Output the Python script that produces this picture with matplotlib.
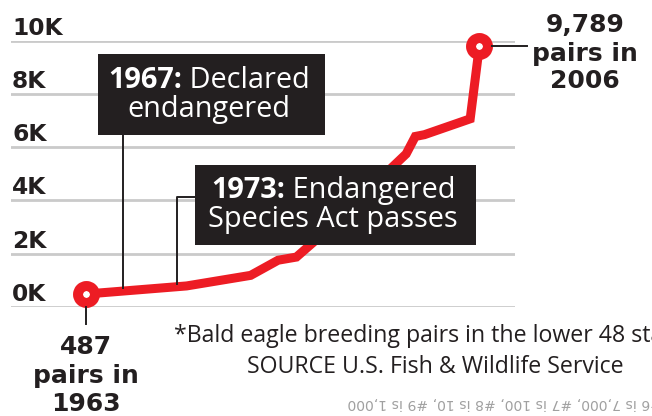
# pares reprodutores de águia-careca, 1963-2006, com anotações dos marcos legais

import numpy as np
import matplotlib
matplotlib.use("Agg")
import matplotlib.pyplot as plt
from matplotlib.patches import Rectangle

# dados: pares reprodutores nos 48 estados contíguos
anos = [1963, 1974, 1981, 1984, 1986, 1988, 1990, 1992, 1994, 1996, 1998, 1999, 2000, 2005, 2006]
pares = [487, 791, 1188, 1757, 1875, 2475, 3035, 3749, 4452, 5094, 5748, 6404, 6471, 7066, 9789]

ticks_y = [0, 2000, 4000, 6000, 8000, 10000]
rotulos_y = ["0K", "2K", "4K", "6K", "8K", "10K"]

ano_declarado = 1967
ano_lei = 1973

VERMELHO = "#ed1c24"
ESCURO = "#231f20"
CINZA = "#cacaca"

L, A = 652, 416
fig = plt.figure(figsize=(L / 100, A / 100), dpi=100)
ax = fig.add_axes([11 / L, (A - 307) / A, 504 / L, (307 - 40.7) / A])
ax.set_xlim(1954.8, 2009.9)
ax.set_ylim(0, 10000)
ax.axis("off")

# linhas de grade e rótulos do eixo y
for v, r in zip(ticks_y, rotulos_y):
    ax.axhline(v, color=CINZA, lw=2, zorder=1)
    ax.annotate(r, (0, v), xycoords=ax.get_yaxis_transform(), xytext=(1, 6),
                textcoords="offset pixels", ha="left", va="baseline",
                fontsize=16.8, fontweight="bold", family="DejaVu Sans", color=ESCURO)

ax.plot(anos, pares, color=VERMELHO, lw=6.5, solid_joinstyle="miter",
        solid_capstyle="butt", zorder=3, clip_on=False)
ax.plot([anos[0], anos[-1]], [pares[0], pares[-1]], "o", ms=12.2, mfc="white",
        mec=VERMELHO, mew=7.2, zorder=4, clip_on=False)

# camada por cima em coordenadas de pixel (y para baixo)
ov = fig.add_axes([0, 0, 1, 1], zorder=5)
ov.set_xlim(0, L)
ov.set_ylim(A, 0)
ov.axis("off")


def para_px(x, y):
    d = ax.transData.transform((x, y))
    return ov.transData.inverted().transform(d)


rend = fig.canvas.get_renderer()


def linha_mista(cx, base, partes, size, cor):
    objs = []
    for txt, peso in partes:
        t = ov.text(0, base, txt, fontsize=size, fontweight=peso, family="Open Sans",
                    color=cor, va="baseline", ha="left", zorder=7)
        objs.append(t)
    larguras = [t.get_window_extent(rend).width for t in objs]
    x = cx - sum(larguras) / 2
    for t, w in zip(objs, larguras):
        t.set_x(x)
        x += w


# caixas pretas
ov.add_patch(Rectangle((98, 54), 227, 81, color=ESCURO, lw=0, zorder=6))
ov.add_patch(Rectangle((195, 165), 281, 80, color=ESCURO, lw=0, zorder=6))

# linhas de chamada
x67, y67 = para_px(ano_declarado, np.interp(ano_declarado, anos, pares))
ov.plot([x67, x67], [135, y67 - 3], color=ESCURO, lw=1.4, zorder=5)
x73, y73 = para_px(ano_lei, np.interp(ano_lei, anos, pares))
ov.plot([195, x73, x73], [196.5, 196.5, y73 - 3], color=ESCURO, lw=1.4, zorder=5)

x0, y0 = para_px(anos[0], pares[0])
ov.plot([x0, x0], [y0 + 13, 324], color=ESCURO, lw=1.4, zorder=5)
xf, yf = para_px(anos[-1], pares[-1])
ov.plot([xf + 13, 527], [yf, yf], color=ESCURO, lw=1.4, zorder=5)

linha_mista(209, 88, [("1967:", "bold"), (" Declared", "normal")], 20.8, "white")
linha_mista(209, 117, [("endangered", "normal")], 20.8, "white")
linha_mista(333, 198, [("1973:", "bold"), (" Endangered", "normal")], 20.8, "white")
linha_mista(333, 227, [("Species Act passes", "normal")], 20.8, "white")

# rótulos das pontas
estilo_ponta = dict(ha="center", va="baseline", fontsize=18, fontweight="bold",
                    family="DejaVu Sans", color=ESCURO)
for base, txt in zip([32, 61, 88], [f"{pares[-1]:,}", "pairs in", str(anos[-1])]):
    ov.text(585, base, txt, **estilo_ponta)
for base, txt in zip([354, 383, 411], [f"{pares[0]:,}", "pairs in", str(anos[0])]):
    ov.text(86, base, txt, **estilo_ponta)

# notas de rodapé
ov.text(435, 342, "*Bald eagle breeding pairs in the lower 48 states", ha="center",
        va="baseline", fontsize=16.7, family="Open Sans", color=ESCURO)
ov.text(435, 373, "SOURCE U.S. Fish & Wildlife Service", ha="center",
        va="baseline", fontsize=16.7, family="Open Sans", color=ESCURO)
ov.text(348, 403, "#6 is 7,000, #7 is 100, #8 is 10, #9 is 1,000", rotation=180,
        ha="left", va="center", fontsize=10.1, family="DejaVu Sans", color="#a0a0a0")

fig.savefig("out.png", dpi=100)
